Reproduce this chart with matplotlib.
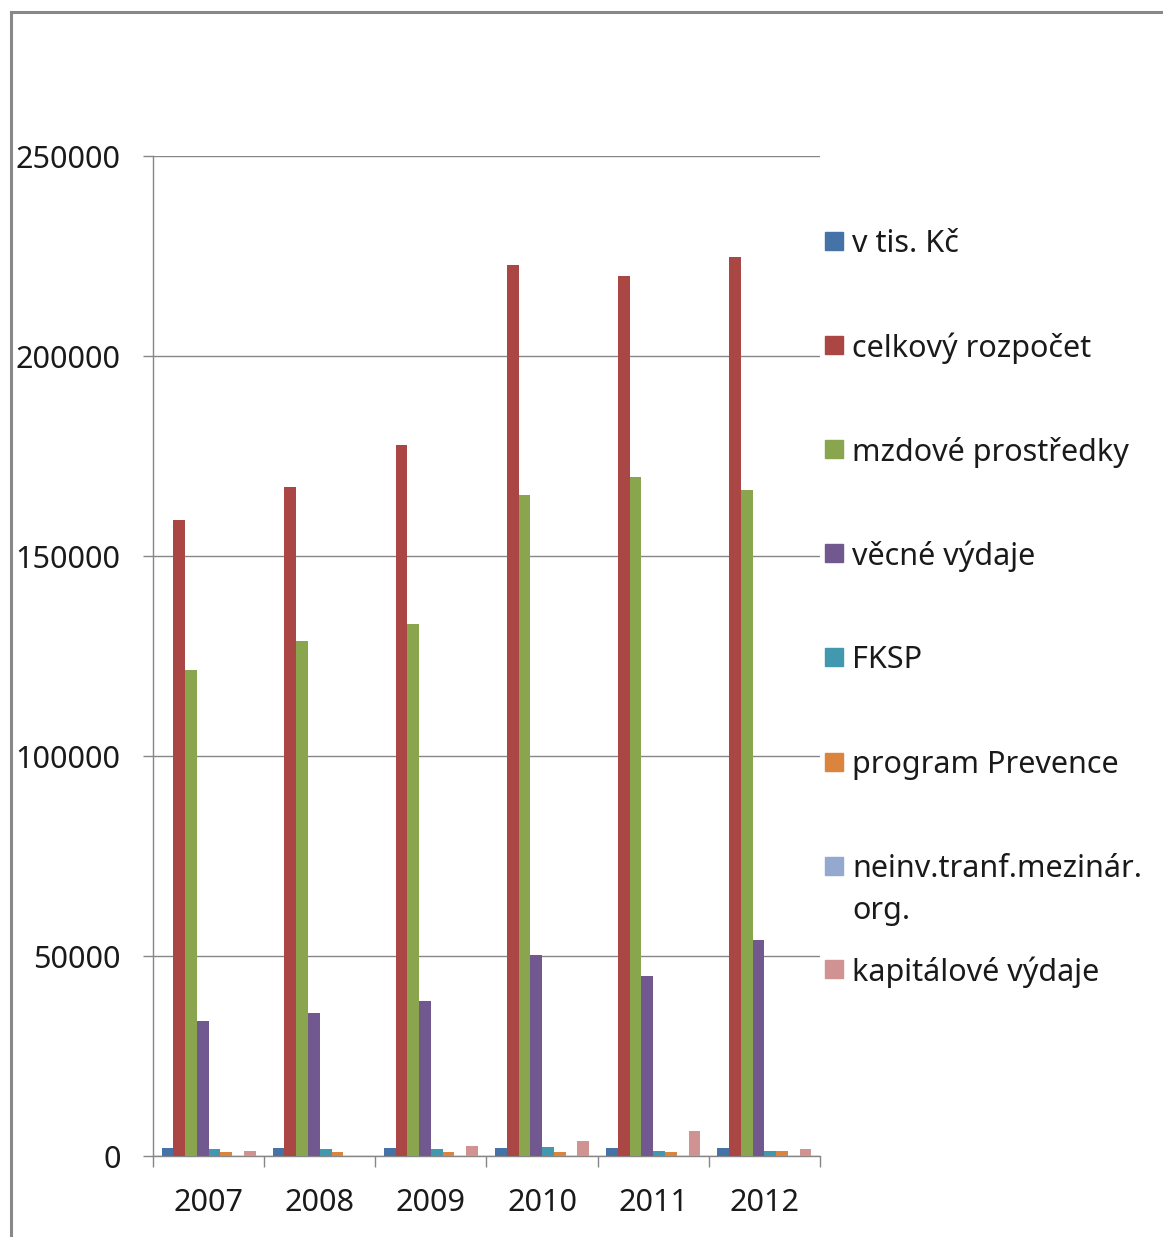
import numpy as np
import matplotlib.pyplot as plt
from matplotlib.patches import Rectangle
from matplotlib.lines import Line2D

plt.rcParams['font.family'] = ['Noto Sans', 'DejaVu Sans']

# data (values in thousands CZK)
years = ['2007', '2008', '2009', '2010', '2011', '2012']
series_names = ['v tis. Kč', 'celkový rozpočet', 'mzdové prostředky', 'věcné výdaje',
                'FKSP', 'program Prevence', 'neinv.tranf.mezinár.\norg.', 'kapitálové výdaje']
v_tis_kc = [2007, 2008, 2009, 2010, 2011, 2012]
celkovy = [159000, 167250, 177750, 222750, 220000, 224750]
mzdove = [121500, 128750, 133000, 165250, 169750, 166500]
vecne = [33750, 35750, 38750, 50250, 45000, 54000]
fksp = [1800, 1800, 1800, 2200, 1300, 1300]
prevence = [1000, 1000, 1000, 1000, 1000, 1300]
neinv = [0, 0, 0, 0, 0, 0]
kapital = [1300, 0, 2500, 3800, 6300, 1800]
all_series = [v_tis_kc, celkovy, mzdove, vecne, fksp, prevence, neinv, kapital]
colors = ['#4572A7', '#AA4643', '#89A54E', '#71588F', '#4198AF', '#DB843D', '#93A9CF', '#D19392']

W, H = 1163, 1237
fig = plt.figure(figsize=(W / 100, H / 100), dpi=100)
ax = fig.add_axes([153 / W, (H - 1156) / H, (820 - 153) / W, 1000 / H])

x = np.arange(len(years))
bw = 0.1057
for j, vals in enumerate(all_series):
    ax.bar(x + (j - 3.5) * bw, vals, width=bw, color=colors[j], edgecolor='none', zorder=3)

grid_c = '#868686'
txt_c = '#1a1a1a'
fs = 22
ax.set_ylim(0, 250000)
ax.set_xlim(-0.5, 5.5)
ax.set_yticks(np.arange(0, 250001, 50000))
ax.set_yticklabels([str(v) for v in range(0, 250001, 50000)])
ax.yaxis.grid(True, color=grid_c, linewidth=1, zorder=0)
ax.set_xticks(np.arange(-0.5, 6, 1))
ax.set_xticklabels([])
ax.set_xticks(x, minor=True)
ax.set_xticklabels(years, minor=True)
ax.tick_params(axis='x', which='major', length=8, width=1, color=grid_c)
ax.tick_params(axis='x', which='minor', length=0, pad=23, labelsize=fs, labelcolor=txt_c)
ax.tick_params(axis='y', length=7.2, width=1, color=grid_c, pad=16, labelsize=fs, labelcolor=txt_c)
for s in ['top', 'right']:
    ax.spines[s].set_visible(False)
for s in ['left', 'bottom']:
    ax.spines[s].set_color(grid_c)
    ax.spines[s].set_linewidth(1)

# legend drawn by hand, Excel-style spacing
ys = [241, 345, 449, 553, 657, 762, 866, 969]
for j, name in enumerate(series_names):
    y0 = ys[j]
    fig.patches.append(Rectangle((825 / W, (H - y0 - 9) / H), 18 / W, 18 / H,
                                 transform=fig.transFigure, color=colors[j]))
    for k, line in enumerate(name.split('\n')):
        fig.text(852 / W, (H - y0 - 3 - k * 42) / H, line, fontsize=fs, va='center',
                 ha='left', color=txt_c)

# outer frame (top and left only visible)
fig.add_artist(Line2D([10.5 / W, 1], [(H - 11.5) / H, (H - 11.5) / H],
                      transform=fig.transFigure, color='#888888', linewidth=2.2))
fig.add_artist(Line2D([10.5 / W, 10.5 / W], [0, (H - 11.5) / H],
                      transform=fig.transFigure, color='#888888', linewidth=2.2))

fig.savefig('out.png', dpi=100)
